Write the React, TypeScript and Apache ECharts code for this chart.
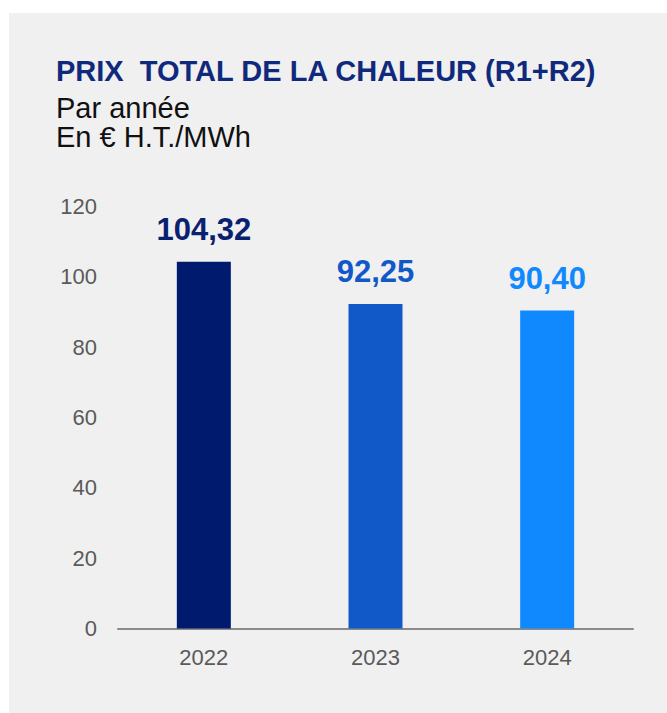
import React, { useEffect, useRef } from "react";
import * as echarts from "echarts";

const years = ["2022", "2023", "2024"];
const prices = [104.32, 92.25, 90.4];
const barColors = ["#001a6e", "#1158c8", "#1089ff"];
const labelColors = ["#0a2170", "#1158c8", "#1089ff"];
const titleText = "PRIX  TOTAL DE LA CHALEUR (R1+R2)";
const subText = "Par année\nEn € H.T./MWh";

export default function App() {
  const ref = useRef<HTMLDivElement>(null);
  useEffect(() => {
    if (!ref.current) return;
    const chart = echarts.init(ref.current, null, { renderer: "svg" });
    chart.setOption({
      animation: false,
      backgroundColor: "#ffffff",
      textStyle: { fontFamily: "Liberation Sans, Arial, sans-serif" },
      graphic: [
        {
          type: "rect",
          z: -10,
          silent: true,
          shape: { x: 9, y: 13, width: 680, height: 720 },
          style: { fill: "#f0f0f0" },
        },
      ],
      title: [
        {
          text: titleText,
          left: 56,
          top: 56,
          padding: 0,
          textStyle: {
            fontFamily: "Liberation Sans, Arial, sans-serif",
            fontWeight: "bold",
            fontSize: 29,
            color: "#0f2a7c",
          },
        },
        {
          text: subText,
          left: 56,
          top: 93,
          padding: 0,
          textStyle: {
            fontFamily: "Liberation Sans, Arial, sans-serif",
            fontWeight: "normal",
            fontSize: 29,
            lineHeight: 29,
            color: "#111111",
          },
        },
      ],
      grid: { left: 118, right: 34, top: 206.5, bottom: 84.5, containLabel: false },
      xAxis: {
        type: "category",
        data: years,
        axisLine: { lineStyle: { color: "#8a8a8a", width: 2 } },
        axisTick: { show: false },
        axisLabel: { color: "#5a5a5a", fontSize: 22, margin: 18 },
      },
      yAxis: {
        type: "value",
        min: 0,
        max: 120,
        interval: 20,
        splitLine: { show: false },
        axisLine: { show: false },
        axisTick: { show: false },
        axisLabel: { color: "#5a5a5a", fontSize: 22, margin: 21 },
      },
      series: [
        {
          type: "bar",
          barWidth: 54,
          data: prices.map((v, i) => ({
            value: v,
            itemStyle: { color: barColors[i] },
            label: { color: labelColors[i] },
          })),
          label: {
            show: true,
            position: "top",
            distance: 17,
            fontSize: 31,
            fontWeight: "bold",
            formatter: (p: any) => p.value.toFixed(2).replace(".", ","),
          },
        },
      ],
    });
    return () => chart.dispose();
  }, []);
  return (
    <div
      ref={ref}
      style={{ position: "absolute", left: 0, top: 0, width: 667, height: 713 }}
    />
  );
}
